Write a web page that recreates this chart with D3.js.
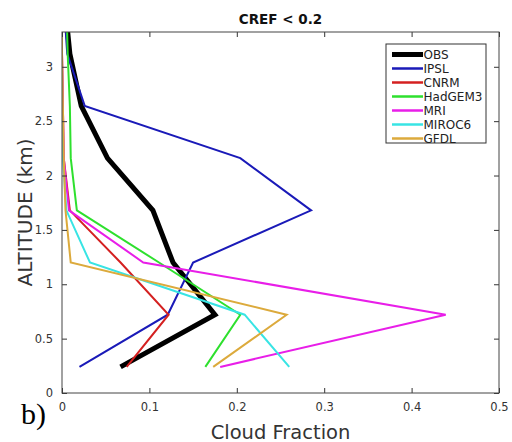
<!DOCTYPE html>
<html>
<head>
<meta charset="utf-8">
<script src="https://cdn.jsdelivr.net/npm/d3@7"></script>
<style>
  html, body { margin: 0; padding: 0; background: #fff; }
  svg { display: block; }
</style>
</head>
<body>
<svg id="chart" width="512" height="442"></svg>
<script>
// Altitude levels (km) of the profiles
const altitudes = [0.24, 0.72, 1.2, 1.68, 2.16, 2.64, 3.12, 3.6];

// Cloud fraction profiles per dataset
const obs     = [0.067, 0.175, 0.127, 0.104, 0.052, 0.022, 0.009, 0.003];
const ipsl    = [0.020, 0.121, 0.150, 0.285, 0.204, 0.026, 0.006, 0.002];
const cnrm    = [0.074, 0.122, 0.067, 0.009, 0.002, 0.001, 0.000, 0.000];
const hadgem3 = [0.164, 0.204, 0.111, 0.017, 0.010, 0.009, 0.0065, 0.005];
const mri     = [0.181, 0.439, 0.093, 0.008, 0.002, 0.001, 0.000, 0.000];
const miroc6  = [0.260, 0.209, 0.032, 0.005, 0.001, 0.000, 0.000, 0.000];
const gfdl    = [0.173, 0.257, 0.010, 0.004, 0.002, 0.001, 0.000, 0.000];

const seriesNames  = ["OBS", "IPSL", "CNRM", "HadGEM3", "MRI", "MIROC6", "GFDL"];
const seriesValues = [obs, ipsl, cnrm, hadgem3, mri, miroc6, gfdl];
const seriesColors = ["#000000", "#1a1ab8", "#d42020", "#2ee02e", "#e81ee8", "#38e4e4", "#dcaa3c"];
const seriesWidths = [5, 2, 2, 2, 2, 2, 2];

const xTicks = [0, 0.1, 0.2, 0.3, 0.4, 0.5];
const yTicks = [0, 0.5, 1, 1.5, 2, 2.5, 3];

const W = 512, H = 442;
const margin = { top: 32, right: 13, bottom: 49, left: 62 };
const iw = W - margin.left - margin.right;
const ih = H - margin.top - margin.bottom;

const svg = d3.select("#chart");
const font = "'DejaVu Sans', sans-serif";

const x = d3.scaleLinear().domain([0, 0.5]).range([0, iw]);
const y = d3.scaleLinear().domain([0, 3.32]).range([ih, 0]);

const g = svg.append("g").attr("transform", `translate(${margin.left},${margin.top})`);

g.append("clipPath").attr("id", "plotClip")
  .append("rect").attr("width", iw).attr("height", ih);

// Profiles
const line = d3.line()
  .x(d => x(d[0]))
  .y(d => y(d[1]));

const lines = g.append("g").attr("clip-path", "url(#plotClip)");
seriesValues.forEach((vals, i) => {
  lines.append("path")
    .datum(vals.map((v, k) => [v, altitudes[k]]))
    .attr("d", line)
    .attr("fill", "none")
    .attr("stroke", seriesColors[i])
    .attr("stroke-width", seriesWidths[i])
    .attr("stroke-linejoin", "miter")
    .attr("stroke-linecap", "butt");
});

// Axes: ticks pointing inward on all four sides
const tickLen = 5;
const styleAxis = sel => {
  sel.select(".domain").remove();
  sel.selectAll(".tick line").attr("stroke", "#333").attr("stroke-width", 1);
  sel.selectAll(".tick text").attr("fill", "#333").style("font-family", font).style("font-size", "11.5px");
};

g.append("g").attr("transform", `translate(0,${ih})`)
  .call(d3.axisBottom(x).tickValues(xTicks).tickFormat(d3.format("~g")).tickSizeInner(-tickLen).tickPadding(10))
  .call(styleAxis);
g.append("g")
  .call(d3.axisTop(x).tickValues(xTicks).tickFormat("").tickSizeInner(-tickLen))
  .call(styleAxis);
g.append("g")
  .call(d3.axisLeft(y).tickValues(yTicks).tickFormat(d3.format("~g")).tickSizeInner(-tickLen).tickPadding(9))
  .call(styleAxis);
g.append("g").attr("transform", `translate(${iw},0)`)
  .call(d3.axisRight(y).tickValues(yTicks).tickFormat("").tickSizeInner(-tickLen))
  .call(styleAxis);

// Box
g.append("rect")
  .attr("width", iw).attr("height", ih)
  .attr("fill", "none").attr("stroke", "#444").attr("stroke-width", 1);

// Title
svg.append("text")
  .attr("x", margin.left + iw / 2).attr("y", 24)
  .attr("text-anchor", "middle")
  .style("font-family", font).style("font-size", "13.5px").style("font-weight", "bold")
  .attr("fill", "#111")
  .text("CREF < 0.2");

// Axis titles
svg.append("text")
  .attr("x", margin.left + iw / 2).attr("y", 438.5)
  .attr("text-anchor", "middle")
  .style("font-family", font).style("font-size", "19.5px")
  .attr("fill", "#333")
  .text("Cloud Fraction");

svg.append("text")
  .attr("transform", `translate(31.5,${margin.top + ih / 2}) rotate(-90)`)
  .attr("text-anchor", "middle")
  .style("font-family", font).style("font-size", "20px")
  .attr("fill", "#333")
  .text("ALTITUDE (km)");

// Panel label
svg.append("text")
  .attr("x", 21).attr("y", 424)
  .style("font-family", "'Liberation Serif', serif").style("font-size", "30px")
  .attr("fill", "#000")
  .text("b)");

// Legend
const lg = svg.append("g").attr("transform", "translate(386,44)");
lg.append("rect")
  .attr("width", 100).attr("height", 99)
  .attr("fill", "#fff").attr("stroke", "#333").attr("stroke-width", 1);
seriesNames.forEach((name, i) => {
  const cy = 10.5 + i * 14;
  lg.append("line")
    .attr("x1", 6).attr("x2", 37).attr("y1", cy).attr("y2", cy)
    .attr("stroke", seriesColors[i]).attr("stroke-width", seriesWidths[i] === 5 ? 5 : 2.5);
  lg.append("text")
    .attr("x", 37.5).attr("y", cy).attr("dy", "0.36em")
    .style("font-family", font).style("font-size", "12px")
    .attr("fill", "#222")
    .text(name);
});
</script>
</body>
</html>
